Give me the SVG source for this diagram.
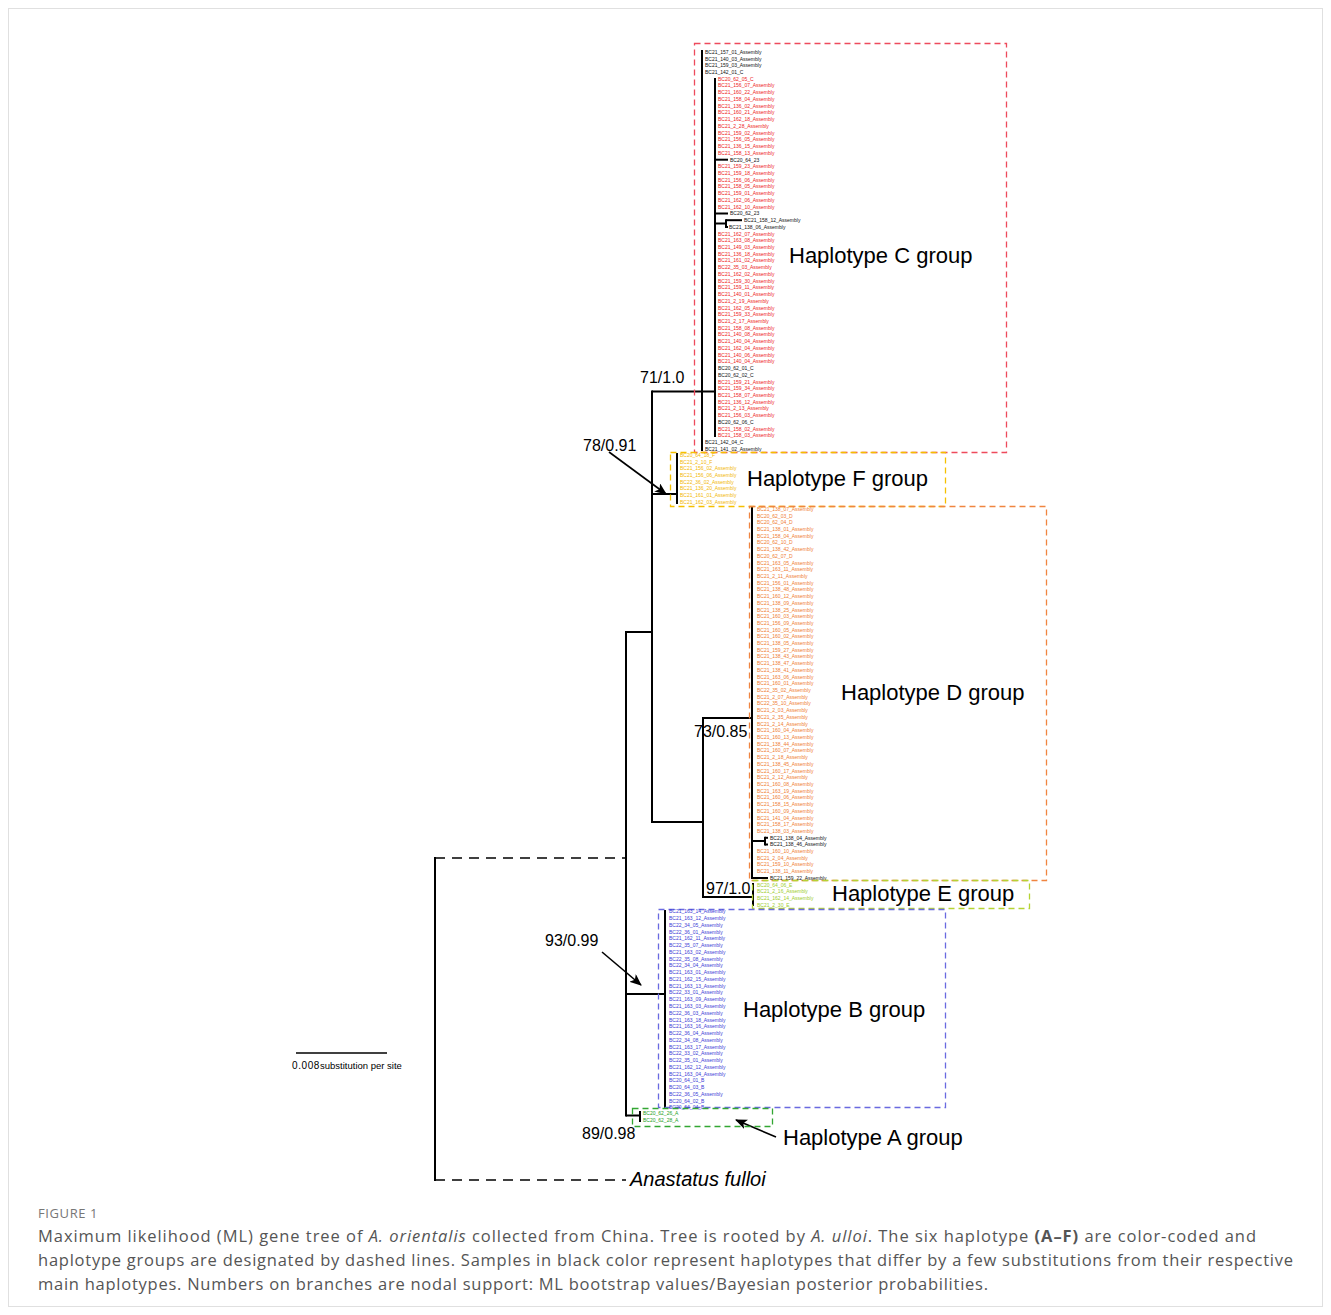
<svg xmlns="http://www.w3.org/2000/svg" width="1331" height="1315" viewBox="0 0 1331 1315">
<style>
.lf{font-family:"Liberation Sans",Arial,sans-serif;font-size:5px}
.k{fill:#111}.r{fill:#ee2222}.f{fill:#f2b705}.d{fill:#ef7d32}.e{fill:#9ccc2c}.b{fill:#3b3bd6}.a{fill:#22a022}
.br{stroke:#000;stroke-width:2;fill:none}
.dash{stroke:#000;stroke-width:1.6;fill:none;stroke-dasharray:10 7}
.box{fill:none;stroke-width:1.3;stroke-dasharray:6 4}
.gl{font-family:"Liberation Sans",Arial,sans-serif;font-size:22px;fill:#000}
.sup{font-family:"Liberation Sans",Arial,sans-serif;font-size:16px;fill:#000}
.cap{font-family:"Open Sans","Liberation Sans",sans-serif;font-size:16.5px;fill:#555}
</style>
<defs>
<marker id="ah" markerWidth="12" markerHeight="10" refX="11" refY="5" orient="auto" markerUnits="userSpaceOnUse">
<path d="M0,0 L12,5 L0,10 L3,5 Z" fill="#000"/>
</marker>
</defs>
<rect x="0" y="0" width="1331" height="1315" fill="#fff"/>
<rect x="8.5" y="8.5" width="1314" height="1298" fill="none" stroke="#e0e0e0" stroke-width="1"/>

<g id="connectors">
<line class="dash" x1="435" y1="858" x2="626" y2="858"/>
<line class="br" x1="435" y1="857" x2="435" y2="1181"/>
<line class="dash" x1="435" y1="1180" x2="626" y2="1180"/>
<line class="br" x1="626" y1="631" x2="626" y2="1116.5"/>
<line class="br" x1="626" y1="632" x2="652" y2="632"/>
<line class="br" x1="652" y1="390.5" x2="652" y2="823"/>
<line class="br" x1="652" y1="391.5" x2="715" y2="391.5"/>
<line class="br" x1="702" y1="50" x2="702" y2="451"/>
<line class="br" x1="715" y1="78" x2="715" y2="437"/>
<line class="br" x1="715" y1="159.7" x2="728" y2="159.7"/>
<line class="br" x1="715" y1="213.5" x2="728" y2="213.5"/>
<line class="br" x1="715" y1="223.5" x2="726" y2="223.5"/>
<line class="br" x1="726" y1="219.2" x2="726" y2="228"/>
<line class="br" x1="726" y1="220.2" x2="742" y2="220.2"/>
<line class="br" x1="726" y1="227" x2="728" y2="227"/>
<line class="br" x1="652" y1="494" x2="677" y2="494"/>
<line class="br" x1="677" y1="453" x2="677" y2="504"/>
<line class="br" x1="652" y1="822" x2="703" y2="822"/>
<line class="br" x1="703" y1="717" x2="703" y2="898"/>
<line class="br" x1="703" y1="718" x2="752" y2="718"/>
<line class="br" x1="752" y1="507" x2="752" y2="879"/>
<line class="br" x1="752" y1="841" x2="765" y2="841"/>
<line class="br" x1="765" y1="836.8" x2="765" y2="845.5"/>
<line class="br" x1="765" y1="837.8" x2="768" y2="837.8"/>
<line class="br" x1="765" y1="844.5" x2="768" y2="844.5"/>
<line class="br" x1="752" y1="878" x2="768" y2="878"/>
<line class="br" x1="703" y1="897" x2="753" y2="897"/>
<line class="br" x1="753" y1="883" x2="753" y2="906"/>
<line class="br" x1="626" y1="994" x2="665" y2="994"/>
<line class="br" x1="665" y1="910" x2="665" y2="1109"/>
<line class="br" x1="626" y1="1115.5" x2="640" y2="1115.5"/>
<line class="br" x1="640" y1="1111" x2="640" y2="1122"/>
<line stroke="#000" stroke-width="1.6" x1="609" y1="452" x2="666" y2="494" marker-end="url(#ah)"/>
<line stroke="#000" stroke-width="1.6" x1="602" y1="952" x2="641" y2="985" marker-end="url(#ah)"/>
<line stroke="#000" stroke-width="1.6" x1="776" y1="1137" x2="736" y2="1120" marker-end="url(#ah)"/>
</g>

<g id="group-C">
<rect class="box" x="694.5" y="43.5" width="312" height="409" stroke="#ee4a5c"/>
<text class="gl" x="789" y="263">Haplotype C group</text>
<g class="lf">
<text class="k" x="705" y="53.8">BC21_157_01_Assembly</text>
<text class="k" x="705" y="60.5">BC21_140_03_Assembly</text>
<text class="k" x="705" y="67.3">BC21_159_03_Assembly</text>
<text class="k" x="705" y="74.0">BC21_142_01_C</text>
<text class="r" x="718" y="80.7">BC20_62_05_C</text>
<text class="r" x="718" y="87.4">BC21_156_07_Assembly</text>
<text class="r" x="718" y="94.2">BC21_160_22_Assembly</text>
<text class="r" x="718" y="100.9">BC21_158_04_Assembly</text>
<text class="r" x="718" y="107.6">BC21_136_02_Assembly</text>
<text class="r" x="718" y="114.4">BC21_160_21_Assembly</text>
<text class="r" x="718" y="121.1">BC21_162_18_Assembly</text>
<text class="r" x="718" y="127.8">BC21_2_28_Assembly</text>
<text class="r" x="718" y="134.5">BC21_159_02_Assembly</text>
<text class="r" x="718" y="141.3">BC21_156_05_Assembly</text>
<text class="r" x="718" y="148.0">BC21_136_15_Assembly</text>
<text class="r" x="718" y="154.7">BC21_158_13_Assembly</text>
<text class="k" x="730" y="161.5">BC20_64_23</text>
<text class="r" x="718" y="168.2">BC21_159_23_Assembly</text>
<text class="r" x="718" y="174.9">BC21_159_18_Assembly</text>
<text class="r" x="718" y="181.6">BC21_156_06_Assembly</text>
<text class="r" x="718" y="188.4">BC21_158_05_Assembly</text>
<text class="r" x="718" y="195.1">BC21_159_01_Assembly</text>
<text class="r" x="718" y="201.8">BC21_162_06_Assembly</text>
<text class="r" x="718" y="208.6">BC21_162_10_Assembly</text>
<text class="k" x="730" y="215.3">BC20_62_23</text>
<text class="k" x="744" y="222.0">BC21_158_12_Assembly</text>
<text class="k" x="729" y="228.8">BC21_138_06_Assembly</text>
<text class="r" x="718" y="235.5">BC21_162_07_Assembly</text>
<text class="r" x="718" y="242.2">BC21_163_08_Assembly</text>
<text class="r" x="718" y="248.9">BC21_149_03_Assembly</text>
<text class="r" x="718" y="255.7">BC21_136_18_Assembly</text>
<text class="r" x="718" y="262.4">BC21_161_02_Assembly</text>
<text class="r" x="718" y="269.1">BC22_35_03_Assembly</text>
<text class="r" x="718" y="275.9">BC21_162_02_Assembly</text>
<text class="r" x="718" y="282.6">BC21_159_30_Assembly</text>
<text class="r" x="718" y="289.3">BC21_159_11_Assembly</text>
<text class="r" x="718" y="296.0">BC21_140_01_Assembly</text>
<text class="r" x="718" y="302.8">BC21_2_19_Assembly</text>
<text class="r" x="718" y="309.5">BC21_162_05_Assembly</text>
<text class="r" x="718" y="316.2">BC21_159_33_Assembly</text>
<text class="r" x="718" y="323.0">BC21_2_17_Assembly</text>
<text class="r" x="718" y="329.7">BC21_158_08_Assembly</text>
<text class="r" x="718" y="336.4">BC21_140_08_Assembly</text>
<text class="r" x="718" y="343.1">BC21_140_04_Assembly</text>
<text class="r" x="718" y="349.9">BC21_162_04_Assembly</text>
<text class="r" x="718" y="356.6">BC21_140_06_Assembly</text>
<text class="r" x="718" y="363.3">BC21_140_04_Assembly</text>
<text class="k" x="718" y="370.1">BC20_62_01_C</text>
<text class="k" x="718" y="376.8">BC20_62_02_C</text>
<text class="r" x="718" y="383.5">BC21_159_21_Assembly</text>
<text class="r" x="718" y="390.3">BC21_159_34_Assembly</text>
<text class="r" x="718" y="397.0">BC21_158_07_Assembly</text>
<text class="r" x="718" y="403.7">BC21_136_12_Assembly</text>
<text class="r" x="718" y="410.4">BC21_2_13_Assembly</text>
<text class="r" x="718" y="417.2">BC21_156_03_Assembly</text>
<text class="k" x="718" y="423.9">BC20_62_06_C</text>
<text class="r" x="718" y="430.6">BC21_158_02_Assembly</text>
<text class="r" x="718" y="437.4">BC21_158_03_Assembly</text>
<text class="k" x="705" y="444.1">BC21_142_04_C</text>
<text class="k" x="705" y="450.8">BC21_141_02_Assembly</text>
</g>
</g>

<g id="group-F">
<rect class="box" x="670.5" y="452.5" width="275" height="54" stroke="#f5c000"/>
<text class="gl" x="747" y="486">Haplotype F group</text>
<g class="lf f">
<text x="680" y="456.8">BC20_64_18_F</text>
<text x="680" y="463.5">BC21_2_10_F</text>
<text x="680" y="470.2">BC21_156_02_Assembly</text>
<text x="680" y="477.0">BC21_156_06_Assembly</text>
<text x="680" y="483.7">BC22_36_02_Assembly</text>
<text x="680" y="490.4">BC21_136_20_Assembly</text>
<text x="680" y="497.1">BC21_161_01_Assembly</text>
<text x="680" y="503.8">BC21_162_03_Assembly</text>
</g>
</g>

<g id="group-D">
<rect class="box" x="749.5" y="506.5" width="297" height="374" stroke="#f08540"/>
<text class="gl" x="841" y="700">Haplotype D group</text>
<g class="lf">
<text class="d" x="757" y="510.8">BC21_138_07_Assembly</text>
<text class="d" x="757" y="517.5">BC20_62_03_D</text>
<text class="d" x="757" y="524.2">BC20_62_04_D</text>
<text class="d" x="757" y="530.9">BC21_138_01_Assembly</text>
<text class="d" x="757" y="537.6">BC21_158_04_Assembly</text>
<text class="d" x="757" y="544.4">BC20_62_10_D</text>
<text class="d" x="757" y="551.1">BC21_138_42_Assembly</text>
<text class="d" x="757" y="557.8">BC20_62_07_D</text>
<text class="d" x="757" y="564.5">BC21_163_05_Assembly</text>
<text class="d" x="757" y="571.2">BC21_163_11_Assembly</text>
<text class="d" x="757" y="577.9">BC21_2_11_Assembly</text>
<text class="d" x="757" y="584.6">BC21_156_01_Assembly</text>
<text class="d" x="757" y="591.3">BC21_138_48_Assembly</text>
<text class="d" x="757" y="598.0">BC21_160_12_Assembly</text>
<text class="d" x="757" y="604.7">BC21_138_09_Assembly</text>
<text class="d" x="757" y="611.5">BC21_138_25_Assembly</text>
<text class="d" x="757" y="618.2">BC21_160_03_Assembly</text>
<text class="d" x="757" y="624.9">BC21_156_09_Assembly</text>
<text class="d" x="757" y="631.6">BC21_160_05_Assembly</text>
<text class="d" x="757" y="638.3">BC21_160_02_Assembly</text>
<text class="d" x="757" y="645.0">BC21_138_05_Assembly</text>
<text class="d" x="757" y="651.7">BC21_159_27_Assembly</text>
<text class="d" x="757" y="658.4">BC21_138_43_Assembly</text>
<text class="d" x="757" y="665.1">BC21_138_47_Assembly</text>
<text class="d" x="757" y="671.8">BC21_138_41_Assembly</text>
<text class="d" x="757" y="678.6">BC21_163_06_Assembly</text>
<text class="d" x="757" y="685.3">BC21_160_01_Assembly</text>
<text class="d" x="757" y="692.0">BC22_35_02_Assembly</text>
<text class="d" x="757" y="698.7">BC21_2_07_Assembly</text>
<text class="d" x="757" y="705.4">BC22_35_10_Assembly</text>
<text class="d" x="757" y="712.1">BC21_2_03_Assembly</text>
<text class="d" x="757" y="718.8">BC21_2_35_Assembly</text>
<text class="d" x="757" y="725.5">BC21_2_14_Assembly</text>
<text class="d" x="757" y="732.2">BC21_160_04_Assembly</text>
<text class="d" x="757" y="738.9">BC21_160_13_Assembly</text>
<text class="d" x="757" y="745.7">BC21_138_44_Assembly</text>
<text class="d" x="757" y="752.4">BC21_160_07_Assembly</text>
<text class="d" x="757" y="759.1">BC21_2_18_Assembly</text>
<text class="d" x="757" y="765.8">BC21_138_45_Assembly</text>
<text class="d" x="757" y="772.5">BC21_160_17_Assembly</text>
<text class="d" x="757" y="779.2">BC21_2_12_Assembly</text>
<text class="d" x="757" y="785.9">BC21_160_08_Assembly</text>
<text class="d" x="757" y="792.6">BC21_163_19_Assembly</text>
<text class="d" x="757" y="799.3">BC21_160_06_Assembly</text>
<text class="d" x="757" y="806.0">BC21_158_15_Assembly</text>
<text class="d" x="757" y="812.8">BC21_160_09_Assembly</text>
<text class="d" x="757" y="819.5">BC21_141_04_Assembly</text>
<text class="d" x="757" y="826.2">BC21_158_17_Assembly</text>
<text class="d" x="757" y="832.9">BC21_138_03_Assembly</text>
<text class="k" x="770" y="839.6">BC21_138_04_Assembly</text>
<text class="k" x="770" y="846.3">BC21_138_46_Assembly</text>
<text class="d" x="757" y="853.0">BC21_160_10_Assembly</text>
<text class="d" x="757" y="859.7">BC21_2_04_Assembly</text>
<text class="d" x="757" y="866.4">BC21_159_10_Assembly</text>
<text class="d" x="757" y="873.1">BC21_138_11_Assembly</text>
<text class="k" x="770" y="879.8">BC21_159_22_Assembly</text>
</g>
</g>

<g id="group-E">
<rect class="box" x="752.5" y="880.5" width="277" height="28" stroke="#b5d334"/>
<text class="gl" x="832" y="901">Haplotype E group</text>
<g class="lf e">
<text x="757" y="886.5">BC20_64_06_E</text>
<text x="757" y="893.2">BC21_2_16_Assembly</text>
<text x="757" y="899.9">BC21_162_14_Assembly</text>
<text x="757" y="906.6">BC21_2_30_E</text>
</g>
</g>

<g id="group-B">
<rect class="box" x="658.5" y="909.5" width="287" height="198" stroke="#6a6ae0"/>
<text class="gl" x="743" y="1017">Haplotype B group</text>
<g class="lf b">
<text x="669" y="913.3">BC21_163_14_Assembly</text>
<text x="669" y="920.1">BC21_163_12_Assembly</text>
<text x="669" y="926.8">BC22_34_05_Assembly</text>
<text x="669" y="933.6">BC22_36_01_Assembly</text>
<text x="669" y="940.3">BC21_162_11_Assembly</text>
<text x="669" y="947.1">BC22_35_07_Assembly</text>
<text x="669" y="953.9">BC21_163_02_Assembly</text>
<text x="669" y="960.6">BC22_35_08_Assembly</text>
<text x="669" y="967.4">BC22_34_04_Assembly</text>
<text x="669" y="974.1">BC21_163_01_Assembly</text>
<text x="669" y="980.9">BC21_162_15_Assembly</text>
<text x="669" y="987.7">BC21_163_13_Assembly</text>
<text x="669" y="994.4">BC22_33_01_Assembly</text>
<text x="669" y="1001.2">BC21_163_09_Assembly</text>
<text x="669" y="1007.9">BC21_163_03_Assembly</text>
<text x="669" y="1014.7">BC22_36_03_Assembly</text>
<text x="669" y="1021.5">BC21_163_18_Assembly</text>
<text x="669" y="1028.2">BC21_163_16_Assembly</text>
<text x="669" y="1035.0">BC22_36_04_Assembly</text>
<text x="669" y="1041.7">BC22_34_08_Assembly</text>
<text x="669" y="1048.5">BC21_163_17_Assembly</text>
<text x="669" y="1055.3">BC22_33_02_Assembly</text>
<text x="669" y="1062.0">BC22_35_01_Assembly</text>
<text x="669" y="1068.8">BC21_162_12_Assembly</text>
<text x="669" y="1075.5">BC21_163_04_Assembly</text>
<text x="669" y="1082.3">BC20_64_01_B</text>
<text x="669" y="1089.1">BC20_64_03_B</text>
<text x="669" y="1095.8">BC22_36_05_Assembly</text>
<text x="669" y="1102.6">BC20_64_02_B</text>
<text x="669" y="1109.3">BC20_64_04_B</text>
</g>
</g>

<g id="group-A">
<rect class="box" x="632.5" y="1108.5" width="140" height="18" stroke="#33a633"/>
<text class="gl" x="783" y="1145">Haplotype A group</text>
<g class="lf a">
<text x="643" y="1114.8">BC20_62_26_A</text>
<text x="643" y="1121.8">BC20_62_28_A</text>
</g>
</g>

<g id="outgroup">
<text x="630" y="1186" font-family="Liberation Sans, Arial, sans-serif" font-size="20" font-style="italic">Anastatus fulloi</text>
</g>

<g id="support-values">
<text class="sup" x="640" y="383">71/1.0</text>
<text class="sup" x="583" y="451">78/0.91</text>
<text class="sup" x="694" y="737">73/0.85</text>
<text class="sup" x="706" y="894">97/1.0</text>
<text class="sup" x="545" y="946">93/0.99</text>
<text class="sup" x="582" y="1139">89/0.98</text>
</g>

<g id="scale-bar">
<line x1="296" y1="1053" x2="387" y2="1053" stroke="#000" stroke-width="1.5"/>
<text x="292" y="1069" font-family="Liberation Sans, Arial, sans-serif" font-size="9.5" fill="#000"><tspan font-size="10" letter-spacing="0.6">0.008</tspan>substitution per site</text>
</g>

<g id="caption">
<text x="38" y="1218" font-family="Open Sans, Liberation Sans, sans-serif" font-size="13" fill="#777" letter-spacing="0.6">FIGURE 1</text>
<text class="cap" x="38" y="1242" textLength="1218" lengthAdjust="spacing">Maximum likelihood (ML) gene tree of <tspan font-style="italic">A. orientalis</tspan> collected from China. Tree is rooted by <tspan font-style="italic">A. ulloi</tspan>. The six haplotype <tspan font-weight="bold">(A–F)</tspan> are color-coded and</text>
<text class="cap" x="38" y="1266" textLength="1255" lengthAdjust="spacing">haplotype groups are designated by dashed lines. Samples in black color represent haplotypes that differ by a few substitutions from their respective</text>
<text class="cap" x="38" y="1290" textLength="950" lengthAdjust="spacing">main haplotypes. Numbers on branches are nodal support: ML bootstrap values/Bayesian posterior probabilities.</text>
</g>
</svg>
